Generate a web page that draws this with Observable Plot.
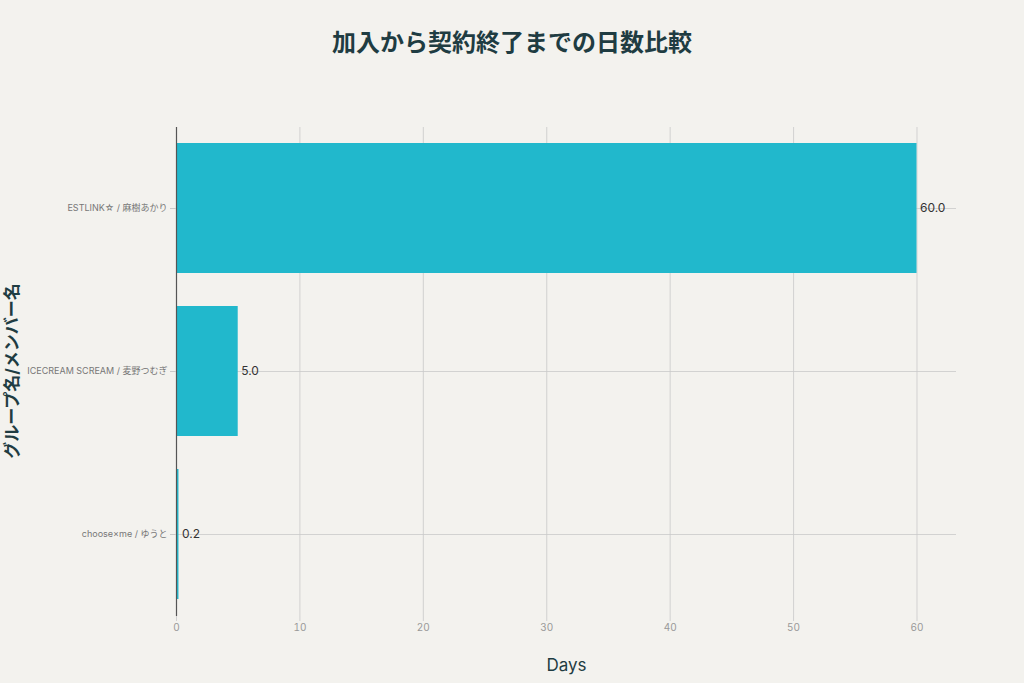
<!DOCTYPE html>
<html><head><meta charset="utf-8">
<script src="https://cdn.jsdelivr.net/npm/d3@7"></script>
<script src="https://cdn.jsdelivr.net/npm/@observablehq/plot@0.6"></script>
<style>
html,body{margin:0;padding:0;background:#f3f2ee;}
#wrap{position:relative;width:1024px;height:683px;font-family:Inter,"Noto Sans CJK JP",sans-serif;}
#title{position:absolute;left:0;top:23px;width:1024px;text-align:center;font-size:24px;font-weight:700;color:#1f3c42;}
#chart{position:absolute;left:0;top:0;}
</style></head>
<body><div id="wrap"><div id="chart"></div><div id="title">加入から契約終了までの日数比較</div></div>
<script>
const members = ["ESTLINK☆ / 麻樹あかり", "ICECREAM SCREAM / 麦野つむぎ", "choose×me / ゆうと"];
const days = [60.0, 5.0, 0.2];
const xTicks = [0, 10, 20, 30, 40, 50, 60];

const data = members.map((m, i) => ({member: m, days: days[i]}));

const chart = Plot.plot({
  width: 1024,
  height: 683,
  marginLeft: 176,
  marginRight: 68,
  marginTop: 127,
  marginBottom: 67,
  style: {background: "transparent", fontFamily: 'Inter,"Noto Sans CJK JP",sans-serif'},
  x: {domain: [0, 63.2], ticks: xTicks, label: null},
  y: {domain: members, paddingInner: 0.2, paddingOuter: 0.1, label: null},
  marks: [
    Plot.gridX(xTicks, {stroke: "#c9c9c9", strokeOpacity: 0.8}),
    Plot.gridY(members, {stroke: "#c9c9c9", strokeOpacity: 0.8}),
    Plot.barX(data, {x: "days", y: "member", fill: "#21b8cc"}),
    Plot.ruleX([0], {stroke: "#555", strokeWidth: 1.2, strokeOpacity: 1}),
    Plot.text(data, {x: "days", y: "member", text: d => d.days.toFixed(1), textAnchor: "start", dx: 3, fontSize: 12, fill: "#333"}),
    Plot.axisX(xTicks, {tickSize: 5, stroke: "#d0d0d0", fill: "#999", fontSize: 10, tickPadding: 2, label: "Days", labelAnchor: "center", labelOffset: 54, labelArrow: "none"}),
    Plot.axisY(members, {tickSize: 6, stroke: "#c9c9c9", fill: "#777", fontSize: 9, tickPadding: 3, label: null})
  ]
});
document.getElementById("chart").appendChild(chart);

const svg = d3.select(chart);
svg.selectAll("[aria-label='x-axis label'] text").attr("font-size", 17).style("fill", "#1f3c42").attr("fill-opacity", 1);
svg.append("text")
  .attr("transform", "translate(18,371) rotate(-90)")
  .attr("text-anchor", "middle")
  .attr("font-size", 17)
  .attr("font-weight", 700)
  .attr("fill", "#1f3c42")
  .text("グループ名/メンバー名");
</script></body></html>
